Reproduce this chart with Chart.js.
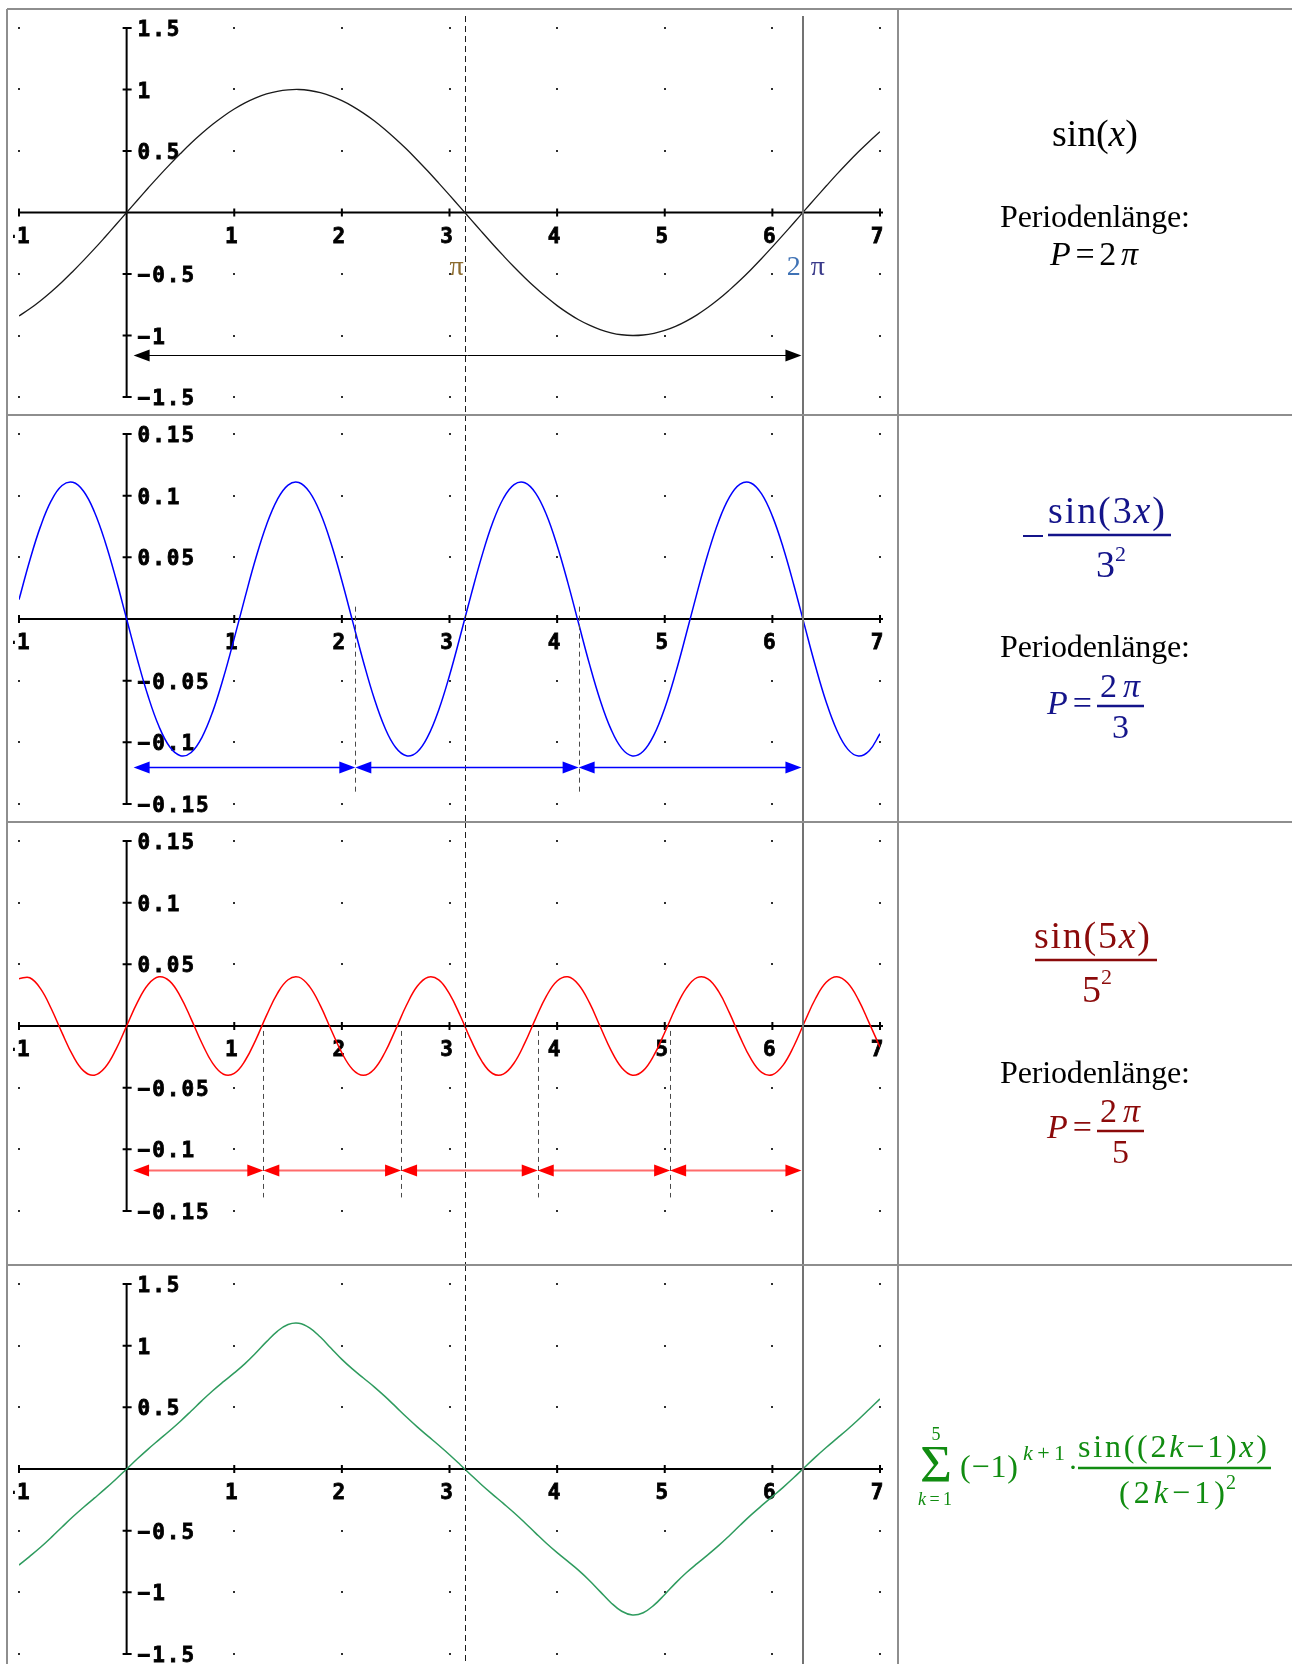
<!DOCTYPE html>
<html>
<head>
<meta charset="utf-8">
<script src="https://cdn.jsdelivr.net/npm/chart.js@4.4.1/dist/chart.umd.min.js"></script>
<style>
  html, body { margin: 0; padding: 0; background: #fff; }
  #page { position: relative; width: 1292px; height: 1664px; overflow: hidden; }
  #page canvas { position: absolute; left: 0; }
  #deco { position: absolute; left: 0; top: 0; pointer-events: none; }
</style>
</head>
<body>
<div id="page">
  <canvas id="c1" width="898" height="406" style="top:9px"></canvas>
  <canvas id="c2" width="898" height="407" style="top:415px"></canvas>
  <canvas id="c3" width="898" height="443" style="top:822px"></canvas>
  <canvas id="c4" width="898" height="399" style="top:1265px"></canvas>

  <svg id="deco" width="1292" height="1664" font-family="'Liberation Serif', 'Times New Roman', serif">
    <g stroke="#8e8e8e" stroke-width="2">
      <line x1="7" y1="9" x2="1292" y2="9"/>
      <line x1="7" y1="415" x2="1292" y2="415"/>
      <line x1="7" y1="822" x2="1292" y2="822"/>
      <line x1="7" y1="1265" x2="1292" y2="1265"/>
      <line x1="7" y1="9" x2="7" y2="1664"/>
      <line x1="898" y1="9" x2="898" y2="1664"/>
    </g>

    <!-- row 1 -->
    <g fill="#000">
      <text x="1052" y="146" font-size="38" textLength="86">sin(<tspan font-style="italic">x</tspan>)</text>
      <text x="1000" y="227" font-size="32" textLength="190">Periodenlänge:</text>
      <text x="1050" y="265" font-size="34" textLength="88"><tspan font-style="italic">P</tspan>=2<tspan font-style="italic">π</tspan></text>
    </g>

    <!-- row 2 -->
    <g fill="#14148a" stroke="none">
      <line x1="1023" y1="536" x2="1043" y2="536" stroke="#14148a" stroke-width="2"/>
      <text x="1048" y="523" font-size="38" textLength="117">sin(3<tspan font-style="italic">x</tspan>)</text>
      <line x1="1048" y1="535" x2="1171" y2="535" stroke="#14148a" stroke-width="2.5"/>
      <text x="1096" y="577" font-size="38">3</text>
      <text x="1115" y="561" font-size="22">2</text>
      <text x="1000" y="657" font-size="32" textLength="190" fill="#000">Periodenlänge:</text>
      <text x="1047" y="714" font-size="34" textLength="45"><tspan font-style="italic">P</tspan>=</text>
      <text x="1100" y="697" font-size="34" textLength="40">2<tspan font-style="italic">π</tspan></text>
      <line x1="1097" y1="706" x2="1144" y2="706" stroke="#14148a" stroke-width="2.5"/>
      <text x="1112" y="738" font-size="34">3</text>
    </g>

    <!-- row 3 -->
    <g fill="#8b0a0a">
      <text x="1034" y="948" font-size="38" textLength="116">sin(5<tspan font-style="italic">x</tspan>)</text>
      <line x1="1035" y1="960" x2="1157" y2="960" stroke="#8b0a0a" stroke-width="2.5"/>
      <text x="1082" y="1002" font-size="38">5</text>
      <text x="1101" y="984" font-size="22">2</text>
      <text x="1000" y="1083" font-size="32" textLength="190" fill="#000">Periodenlänge:</text>
      <text x="1047" y="1138" font-size="34" textLength="45"><tspan font-style="italic">P</tspan>=</text>
      <text x="1100" y="1122" font-size="34" textLength="40">2<tspan font-style="italic">π</tspan></text>
      <line x1="1097" y1="1131" x2="1144" y2="1131" stroke="#8b0a0a" stroke-width="2.5"/>
      <text x="1112" y="1163" font-size="34">5</text>
    </g>

    <!-- row 4 -->
    <g fill="#118c11">
      <text x="936" y="1440" font-size="18" text-anchor="middle">5</text>
      <text x="920" y="1482" font-size="52" textLength="32" lengthAdjust="spacingAndGlyphs">Σ</text>
      <text x="918" y="1505" font-size="18" textLength="34"><tspan font-style="italic">k</tspan>=1</text>
      <text x="960" y="1477" font-size="32" textLength="58">(−1)</text>
      <text x="1023" y="1460" font-size="22" textLength="42"><tspan font-style="italic">k</tspan>+1</text>
      <text x="1073" y="1477" font-size="30" text-anchor="middle">·</text>
      <text x="1078" y="1457" font-size="32" textLength="189">sin((2<tspan font-style="italic">k</tspan>−1)<tspan font-style="italic">x</tspan>)</text>
      <line x1="1078" y1="1468" x2="1271" y2="1468" stroke="#118c11" stroke-width="2.5"/>
      <text x="1119" y="1503" font-size="32" textLength="106">(2<tspan font-style="italic">k</tspan>−1)</text>
      <text x="1226" y="1489" font-size="20">2</text>
    </g>
  </svg>
</div>

<script>
// x positions of the sampled curves
const xs = [
  -1, -0.9, -0.8, -0.7, -0.6, -0.5, -0.4, -0.3, -0.2, -0.1,
  0, 0.1, 0.2, 0.3, 0.4, 0.5, 0.6, 0.7, 0.8, 0.9,
  1, 1.1, 1.2, 1.3, 1.4, 1.5, 1.6, 1.7, 1.8, 1.9,
  2, 2.1, 2.2, 2.3, 2.4, 2.5, 2.6, 2.7, 2.8, 2.9,
  3, 3.1, 3.2, 3.3, 3.4, 3.5, 3.6, 3.7, 3.8, 3.9,
  4, 4.1, 4.2, 4.3, 4.4, 4.5, 4.6, 4.7, 4.8, 4.9,
  5, 5.1, 5.2, 5.3, 5.4, 5.5, 5.6, 5.7, 5.8, 5.9,
  6, 6.1, 6.2, 6.3, 6.4, 6.5, 6.6, 6.7, 6.8, 6.9,
  7
];

// row 1: sin(x)
const sinX = [
  -0.841, -0.783, -0.717, -0.644, -0.565, -0.479, -0.389, -0.296, -0.199, -0.100,
  0, 0.100, 0.199, 0.296, 0.389, 0.479, 0.565, 0.644, 0.717, 0.783,
  0.841, 0.891, 0.932, 0.964, 0.985, 0.997, 1.000, 0.992, 0.974, 0.946,
  0.909, 0.863, 0.808, 0.746, 0.675, 0.598, 0.516, 0.427, 0.335, 0.239,
  0.141, 0.042, -0.058, -0.158, -0.256, -0.351, -0.443, -0.530, -0.612, -0.688,
  -0.757, -0.818, -0.872, -0.916, -0.952, -0.978, -0.994, -1.000, -0.996, -0.982,
  -0.959, -0.926, -0.883, -0.832, -0.773, -0.706, -0.631, -0.551, -0.465, -0.374,
  -0.279, -0.182, -0.083, 0.017, 0.117, 0.215, 0.312, 0.405, 0.494, 0.578,
  0.657
];

// row 2: -sin(3x)/3^2
const sin3x = [
  0.0157, 0.0475, 0.0751, 0.0959, 0.1082, 0.1108, 0.1036, 0.0870, 0.0627, 0.0328,
  0, -0.0328, -0.0627, -0.0870, -0.1036, -0.1108, -0.1082, -0.0959, -0.0751, -0.0475,
  -0.0157, 0.0175, 0.0492, 0.0764, 0.0968, 0.1086, 0.1107, 0.1029, 0.0859, 0.0612,
  0.0310, -0.0019, -0.0346, -0.0643, -0.0882, -0.1042, -0.1109, -0.1078, -0.0950, -0.0737,
  -0.0458, -0.0138, 0.0194, 0.0508, 0.0778, 0.0977, 0.1090, 0.1105, 0.1021, 0.0847,
  0.0596, 0.0293, -0.0037, -0.0364, -0.0658, -0.0893, -0.1049, -0.1110, -0.1073, -0.0940,
  -0.0723, -0.0441, -0.0120, 0.0212, 0.0525, 0.0791, 0.0986, 0.1093, 0.1103, 0.1014,
  0.0834, 0.0580, 0.0274, -0.0056, -0.0381, -0.0673, -0.0904, -0.1055, -0.1111, -0.1068,
  -0.0930
];

// row 3: sin(5x)/5^2
const sin5x = [
  0.0384, 0.0391, 0.0303, 0.0140, -0.0056, -0.0239, -0.0364, -0.0399, -0.0337, -0.0192,
  0, 0.0192, 0.0337, 0.0399, 0.0364, 0.0239, 0.0056, -0.0140, -0.0303, -0.0391,
  -0.0384, -0.0282, -0.0112, 0.0086, 0.0263, 0.0375, 0.0396, 0.0319, 0.0165, -0.0030,
  -0.0218, -0.0352, -0.0400, -0.0350, -0.0215, -0.0027, 0.0168, 0.0322, 0.0396, 0.0374,
  0.0260, 0.0083, -0.0115, -0.0285, -0.0385, -0.0390, -0.0300, -0.0137, 0.0060, 0.0242,
  0.0365, 0.0399, 0.0335, 0.0189, -0.0004, -0.0195, -0.0338, -0.0399, -0.0362, -0.0237,
  -0.0053, 0.0144, 0.0305, 0.0392, 0.0383, 0.0280, 0.0108, -0.0090, -0.0265, -0.0376,
  -0.0395, -0.0317, -0.0162, 0.0034, 0.0221, 0.0354, 0.0400, 0.0348, 0.0212, 0.0023,
  -0.0171
];

// row 4: partial sum k = 1..5
const sumK5 = [
  -0.7791, -0.7084, -0.6347, -0.5546, -0.4703, -0.3876, -0.3099, -0.2361, -0.1616, -0.0828,
  0, 0.0828, 0.1616, 0.2361, 0.3099, 0.3876, 0.4703, 0.5546, 0.6347, 0.7084,
  0.7791, 0.8547, 0.9405, 1.0327, 1.1164, 1.1715, 1.1818, 1.1440, 1.0697, 0.9787,
  0.8890, 0.8094, 0.7377, 0.6661, 0.5886, 0.5055, 0.4215, 0.3417, 0.2665, 0.1928,
  0.1160, 0.0347, -0.0486, -0.1293, -0.2054, -0.2790, -0.3546, -0.4355, -0.5198, -0.6022,
  -0.6784, -0.7495, -0.8222, -0.9035, -0.9943, -1.0839, -1.1534, -1.1834, -1.1651, -1.1040,
  -1.0173, -0.9253, -0.8414, -0.7671, -0.6964, -0.6217, -0.5406, -0.4563, -0.3742, -0.2974,
  -0.2237, -0.1486, -0.0691, 0.0141, 0.0963, 0.1743, 0.2483, 0.3225, 0.4013, 0.4844,
  0.5685
];

const xTicks = [-1, 1, 2, 3, 4, 5, 6, 7];
const xTickLabels = ['−1', '1', '2', '3', '4', '5', '6', '7'];
const yTicksBig = [1.5, 1, 0.5, -0.5, -1, -1.5];
const yLabelsBig = ['1.5', '1', '0.5', '−0.5', '−1', '−1.5'];
const yTicksSmall = [0.15, 0.1, 0.05, -0.05, -0.1, -0.15];
const yLabelsSmall = ['0.15', '0.1', '0.05', '−0.05', '−0.1', '−0.15'];

const guideX = [3.1416, 6.2832];          // pi (dashed), 2 pi (solid)
const arrows1 = [0.065, 6.27];
const arrows2 = [0.065, 2.125, 4.2, 6.27];
const arrows3 = [0.06, 1.27, 2.55, 3.82, 5.05, 6.27];
const marks2 = [2.125, 4.2];
const marks3 = [1.27, 2.55, 3.82, 5.05];

const ADV = 14.6;      // advance of the pixel style tick font
const HEAD_LEN = 16;
const HEAD_HALF = 6;

function drawMono(ctx, text, left, baseline) {
  for (let i = 0; i < text.length; i++) {
    const cx = left + ADV * i + ADV / 2;
    ctx.fillText(text[i], cx, baseline);
    ctx.strokeText(text[i], cx, baseline);
  }
}

function head(ctx, tip, py, dir) {
  ctx.beginPath();
  ctx.moveTo(tip, py);
  ctx.lineTo(tip - dir * HEAD_LEN, py - HEAD_HALF);
  ctx.lineTo(tip - dir * HEAD_LEN, py + HEAD_HALF);
  ctx.closePath();
  ctx.fill();
}

const plotDeco = {
  id: 'plotDeco',
  beforeDatasetsDraw(chart, args, o) {
    const { ctx, chartArea: a } = chart;
    const { x, y } = chart.scales;
    const x0 = x.getPixelForValue(0), y0 = y.getPixelForValue(0);
    ctx.save();

    // dotted grid
    ctx.fillStyle = '#2e2e2e';
    xTicks.forEach(v => {
      const px = Math.round(x.getPixelForValue(v));
      o.yTicks.forEach(w => {
        ctx.fillRect(px - 1, Math.round(y.getPixelForValue(w)) - 1, 2, 2);
      });
    });

    // axes with ticks
    ctx.strokeStyle = '#000';
    ctx.lineWidth = 2;
    ctx.beginPath();
    ctx.moveTo(x.getPixelForValue(-1), y0);
    ctx.lineTo(a.right + 3, y0);
    ctx.moveTo(x0, y.getPixelForValue(o.yTicks[0]));
    ctx.lineTo(x0, y.getPixelForValue(o.yTicks[o.yTicks.length - 1]));
    xTicks.forEach(v => {
      const px = x.getPixelForValue(v);
      ctx.moveTo(px, y0 - 4);
      ctx.lineTo(px, y0 + 4);
    });
    o.yTicks.forEach(w => {
      const py = y.getPixelForValue(w);
      ctx.moveTo(x0 - 4, py);
      ctx.lineTo(x0 + 5, py);
    });
    ctx.stroke();

    // tick labels
    ctx.beginPath();
    ctx.rect(13, 0, chart.width, chart.height);
    ctx.clip();
    ctx.font = 'bold 21px "DejaVu Sans Mono"';
    ctx.textAlign = 'center';
    ctx.textBaseline = 'alphabetic';
    ctx.fillStyle = '#000';
    ctx.lineWidth = 0.8;
    xTicks.forEach((v, i) => {
      const s = xTickLabels[i];
      const cx = x.getPixelForValue(v) - 3;
      drawMono(ctx, s, cx - s.length * ADV / 2, y0 + 30);
    });
    o.yTicks.forEach((w, i) => {
      drawMono(ctx, o.yLabels[i], x0 + 10, y.getPixelForValue(w) + 8);
    });
    ctx.restore();
  },
  afterDatasetsDraw(chart, args, o) {
    const { ctx } = chart;
    const { x, y } = chart.scales;
    ctx.save();

    // period boundaries
    if (o.marks) {
      ctx.strokeStyle = '#4a4a4a';
      ctx.lineWidth = 1;
      ctx.setLineDash([5, 4]);
      o.marks.forEach(v => {
        const px = Math.round(x.getPixelForValue(v)) + 0.5;
        ctx.beginPath();
        ctx.moveTo(px, y.getPixelForValue(o.markFrom));
        ctx.lineTo(px, y.getPixelForValue(o.markTo));
        ctx.stroke();
      });
    }

    // pi and 2 pi guides
    const gp = Math.round(x.getPixelForValue(guideX[0])) + 0.5;
    ctx.strokeStyle = '#1e1e1e';
    ctx.lineWidth = 1;
    ctx.setLineDash([6, 4]);
    ctx.beginPath();
    ctx.moveTo(gp, o.guideTop);
    ctx.lineTo(gp, chart.height);
    ctx.stroke();
    ctx.setLineDash([]);
    const g2 = Math.round(x.getPixelForValue(guideX[1]));
    ctx.strokeStyle = '#737373';
    ctx.lineWidth = 2;
    ctx.beginPath();
    ctx.moveTo(g2, o.guideTop);
    ctx.lineTo(g2, chart.height);
    ctx.stroke();

    // period arrows
    const py = Math.round(y.getPixelForValue(o.arrowY)) + 0.5;
    ctx.strokeStyle = o.arrowLine;
    ctx.fillStyle = o.arrowHead;
    ctx.lineWidth = o.arrowWidth;
    for (let i = 0; i < o.arrows.length - 1; i++) {
      const l = x.getPixelForValue(o.arrows[i]);
      const r = x.getPixelForValue(o.arrows[i + 1]);
      ctx.beginPath();
      ctx.moveTo(l + 4, py);
      ctx.lineTo(r - 4, py);
      ctx.stroke();
      head(ctx, l, py, -1);
      head(ctx, r, py, 1);
    }

    // pi labels (first row only)
    if (o.notes) {
      ctx.font = '28px "Liberation Serif"';
      ctx.textBaseline = 'alphabetic';
      o.notes.forEach(n => {
        ctx.fillStyle = n.color;
        ctx.textAlign = n.align;
        ctx.fillText(n.text, x.getPixelForValue(n.x) + n.dx, y.getPixelForValue(n.y));
      });
    }
    ctx.restore();
  }
};

const rows = [
  { id: 'c1', ys: sinX, color: '#1a1a1a', width: 1.3, range: 1.5, yTicks: yTicksBig, yLabels: yLabelsBig,
    pad: [19, 18], guideTop: 7, arrows: arrows1, arrowY: -1.16, arrowLine: '#000', arrowHead: '#000', arrowWidth: 1,
    notes: [
      { text: 'π', x: 3.1416, dx: -1, y: -0.51, align: 'right', color: '#8c6b2e' },
      { text: '2', x: 6.2832, dx: -2, y: -0.51, align: 'right', color: '#3f72b5' },
      { text: 'π', x: 6.2832, dx: 8, y: -0.51, align: 'left', color: '#3a3a8a' }
    ] },
  { id: 'c2', ys: sin3x, color: '#0000ff', width: 1.5, range: 0.15, yTicks: yTicksSmall, yLabels: yLabelsSmall,
    pad: [19, 18], guideTop: 0, arrows: arrows2, arrowY: -0.12, arrowLine: '#0000ff', arrowHead: '#0000ff', arrowWidth: 1.5,
    marks: marks2, markFrom: 0.01, markTo: -0.143 },
  { id: 'c3', ys: sin5x, color: '#ff0000', width: 1.5, range: 0.15, yTicks: yTicksSmall, yLabels: yLabelsSmall,
    pad: [19, 54], guideTop: 0, arrows: arrows3, arrowY: -0.1167, arrowLine: '#ff6b6b', arrowHead: '#ff0000', arrowWidth: 2,
    marks: marks3, markFrom: -0.004, markTo: -0.139 },
  { id: 'c4', ys: sumK5, color: '#2e9b5e', width: 1.5, range: 1.5, yTicks: yTicksBig, yLabels: yLabelsBig,
    pad: [19, 10], guideTop: 0, arrows: [], arrowY: 0, arrowLine: '#000', arrowHead: '#000', arrowWidth: 1 }
];

rows.forEach(r => {
  new Chart(document.getElementById(r.id), {
    type: 'line',
    data: {
      datasets: [{
        data: xs.map((v, i) => ({ x: v, y: r.ys[i] })),
        borderColor: r.color,
        borderWidth: r.width,
        pointRadius: 0,
        tension: 0.4,
        fill: false
      }]
    },
    options: {
      responsive: false,
      animation: false,
      devicePixelRatio: 1,
      events: [],
      layout: { padding: { left: 19, right: 18, top: r.pad[0], bottom: r.pad[1] } },
      plugins: {
        legend: { display: false },
        tooltip: { enabled: false },
        plotDeco: r
      },
      scales: {
        x: { type: 'linear', min: -1, max: 7, display: false },
        y: { type: 'linear', min: -r.range, max: r.range, display: false }
      }
    },
    plugins: [plotDeco]
  });
});
</script>
</body>
</html>
